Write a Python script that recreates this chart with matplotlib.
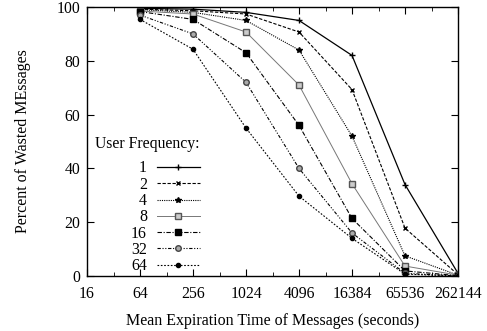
import matplotlib.pyplot as plt
from matplotlib.ticker import FixedLocator, NullFormatter

# datos
tiempos = [64, 256, 1024, 4096, 16384, 65536, 262144]
frecuencias = ['1', '2', '4', '8', '16', '32', '64']
desperdicio = {
    '1':  [99.5, 99.2, 98.0, 95.0, 82.0, 34.0, 1.0],
    '2':  [99.2, 98.6, 97.4, 90.7, 69.3, 17.8, 0.5],
    '4':  [99.0, 98.0, 95.0, 84.0, 52.0, 7.5, 0.3],
    '8':  [98.5, 97.4, 90.7, 71.0, 34.3, 3.7, 0.3],
    '16': [98.3, 95.4, 83.0, 56.0, 21.4, 1.9, 0.1],
    '32': [97.0, 90.0, 72.0, 40.0, 16.0, 1.0, 0.0],
    '64': [95.4, 84.3, 55.0, 29.7, 14.0, 0.7, 0.0],
}
ticks_x = [16, 64, 256, 1024, 4096, 16384, 65536, 262144]
ticks_y = [0, 20, 40, 60, 80, 100]

estilos = {
    '1':  dict(color='black', ls='-', marker='+', ms=4, lw=0.9),
    '2':  dict(color='black', ls=(0, (3, 1.5)), marker='x', ms=3.5, lw=0.8),
    '4':  dict(color='black', ls=(0, (1, 1)), marker='*', ms=4, lw=0.8),
    '8':  dict(color='#777777', ls='-', marker='s', ms=4, mfc='#cccccc', mec='#555555', lw=0.7),
    '16': dict(color='black', ls=(0, (4, 1.5, 1, 1.5)), marker='s', ms=4.5, lw=0.8),
    '32': dict(color='black', ls=(0, (3, 1.5, 1, 1.5, 1, 1.5)), marker='o', ms=4, mfc='#aaaaaa', mec='#444444', lw=0.8),
    '64': dict(color='black', ls=(0, (1.5, 1.5)), marker='o', ms=3, lw=0.8),
}

plt.rcParams['font.family'] = 'Liberation Serif'
plt.rcParams['font.size'] = 11

fig = plt.figure(figsize=(4.87, 3.31), dpi=100)
ax = fig.add_axes([87/487, 1 - 276/331, (458-87)/487, (276-7)/331])

for f in frecuencias:
    ax.plot(tiempos, desperdicio[f], label=f, **estilos[f])

ax.set_xscale('log', base=2)
ax.set_xlim(16, 262144)
ax.set_ylim(0, 100)
ax.xaxis.set_major_locator(FixedLocator(ticks_x))
ax.set_xticklabels([str(t) for t in ticks_x])
ax.xaxis.set_minor_locator(FixedLocator([32, 128, 512, 2048, 8192, 32768, 131072]))
ax.xaxis.set_minor_formatter(NullFormatter())
ax.set_yticks(ticks_y)
ax.tick_params(which='both', direction='in', top=True, right=True, labelsize=11.3)
ax.tick_params(axis='x', pad=7)
ax.tick_params(axis='y', pad=5)
ax.tick_params(which='major', length=5)
ax.tick_params(which='minor', length=3)
for s in ax.spines.values():
    s.set_linewidth(1.0)

ax.set_xlabel('Mean Expiration Time of Messages (seconds)', fontsize=11.5, labelpad=8)
ax.set_ylabel('Percent of Wasted MEssages', fontsize=11.5)
ax.yaxis.set_label_coords(-0.151, 0.5)

leg = ax.legend(title='User Frequency:', loc='lower right', bbox_to_anchor=(0.308, 0.0),
                markerfirst=False, frameon=False, handlelength=2.7, handletextpad=0.6,
                labelspacing=0.02, borderaxespad=0.0, borderpad=0.1,
                fontsize=11.5, title_fontsize=11.3, alignment='right')
for t in leg.get_texts():
    t.set_ha('right')
# un poco mas de aire entre el titulo y las entradas
leg._legend_box.sep = 6

fig.savefig('out.png', dpi=100)
